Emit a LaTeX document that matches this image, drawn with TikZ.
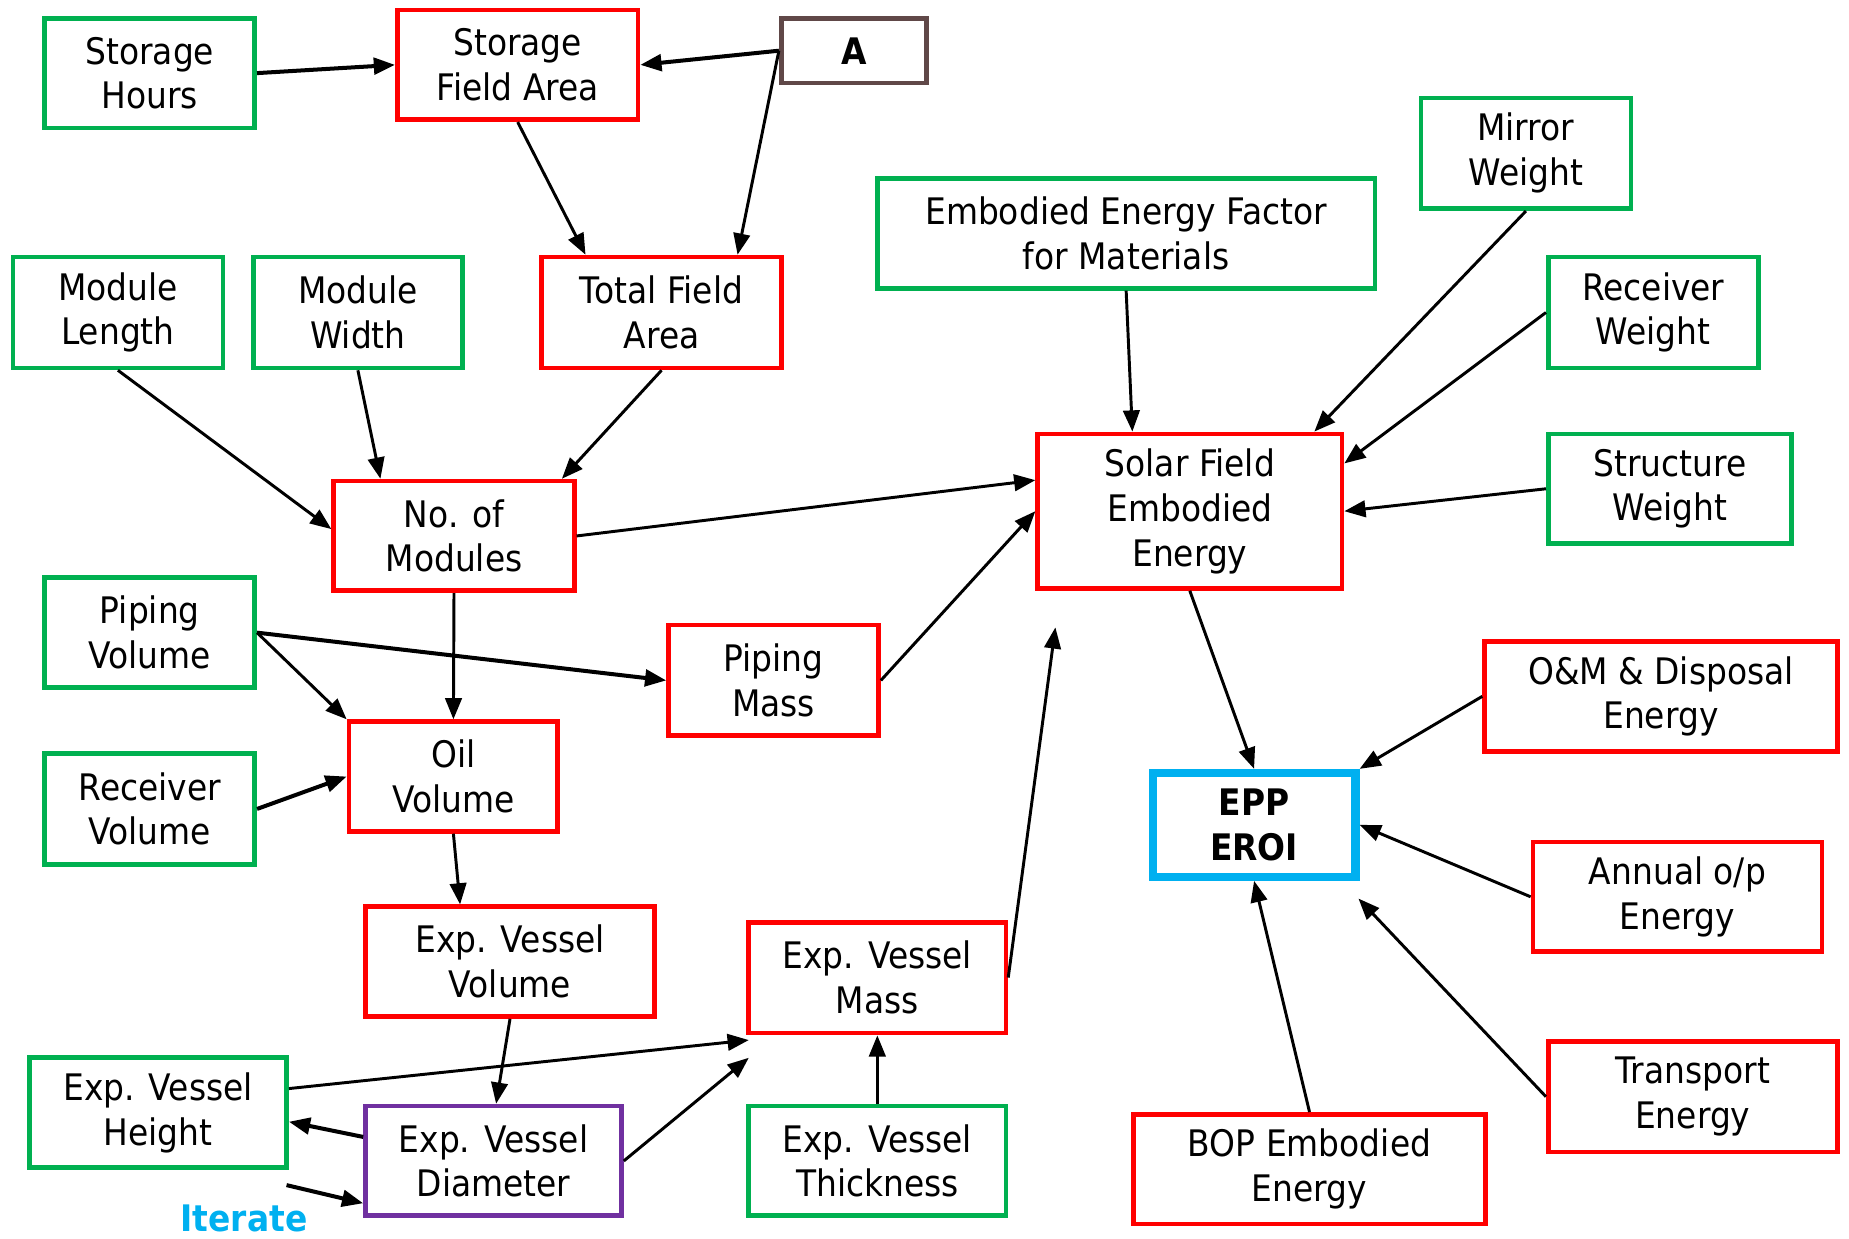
\documentclass[tikz,border=0pt]{standalone}
\usepackage{fontspec}
\setmainfont[FakeStretch=0.9]{DejaVu Sans}
\usetikzlibrary{arrows.meta,calc}
\definecolor{gr}{HTML}{00B050}
\definecolor{rd}{HTML}{FF0000}
\definecolor{bl}{HTML}{00B0F0}
\definecolor{pu}{HTML}{7030A0}
\definecolor{br}{HTML}{604848}
\begin{document}
\begin{tikzpicture}[x=0.5pt,y=-0.5pt,
  bx/.style={draw, line width=2pt, fill=white, inner sep=0pt, align=center,
    font=\fontsize{15.5pt}{19pt}\selectfont},
  gbox/.style={bx, draw=gr},
  rbox/.style={bx, draw=rd},
  con/.style={line width=1.25pt, -{Triangle[length=9pt,width=7pt]}},
  conth/.style={line width=1.7pt, -{Triangle[length=9pt,width=7pt]}}
]
\useasboundingbox (0,0) rectangle (1568,1050);
% nodes
\node[gbox, minimum width=89pt, minimum height=46.5pt] (sh) at (127,62) {Storage\\Hours};
\node[rbox, minimum width=102pt, minimum height=46.5pt] (sfa) at (439,55) {Storage\\Field Area};
\node[bx, draw=br, minimum width=61.5pt, minimum height=27.5pt, font=\fontsize{15.5pt}{19pt}\selectfont\bfseries] (A) at (724,43) {A};
\node[gbox, minimum width=89pt, minimum height=47pt] (ml) at (100,265) {Module\\Length};
\node[gbox, minimum width=88.5pt, minimum height=47pt] (mw) at (303.5,265) {Module\\Width};
\node[rbox, minimum width=102pt, minimum height=47pt] (tfa) at (561,265) {Total Field\\Area};
\node[gbox, minimum width=211pt, minimum height=46.5pt] (eef) at (955,198) {Embodied Energy Factor\\for Materials};
\node[gbox, minimum width=89pt, minimum height=47pt] (mirw) at (1294,130) {Mirror\\Weight};
\node[gbox, minimum width=89pt, minimum height=47pt] (recw) at (1402,265) {Receiver\\Weight};
\node[gbox, minimum width=103pt, minimum height=46.5pt] (strw) at (1416,414.5) {Structure\\Weight};
\node[rbox, minimum width=129pt, minimum height=65.5pt] (sfee) at (1009,433.5) {Solar Field\\Embodied\\Energy};
\node[rbox, minimum width=102pt, minimum height=46.5pt] (nom) at (385,454.5) {No. of\\Modules};
\node[gbox, minimum width=89pt, minimum height=46.5pt] (pv) at (127,536.5) {Piping\\Volume};
\node[rbox, minimum width=89pt, minimum height=47pt] (pm) at (656,577) {Piping\\Mass};
\node[rbox, minimum width=88.5pt, minimum height=46.5pt] (ov) at (384.5,658.5) {Oil\\Volume};
\node[gbox, minimum width=89pt, minimum height=47pt] (rv) at (127,686) {Receiver\\Volume};
\node[rbox, minimum width=149.5pt, minimum height=46.5pt] (om) at (1408.5,590.5) {O\&M \& Disposal\\Energy};
\node[bx, draw=bl, line width=3.5pt, minimum width=86pt, minimum height=44pt, font=\fontsize{15.5pt}{19pt}\selectfont\bfseries] (epp) at (1063.5,699.5) {EPP\\EROI};
\node[rbox, minimum width=122.5pt, minimum height=46.5pt] (aop) at (1422.5,760.5) {Annual o/p\\Energy};
\node[rbox, minimum width=122.5pt, minimum height=46.5pt] (evv) at (432.5,815.5) {Exp. Vessel\\Volume};
\node[rbox, minimum width=109pt, minimum height=47pt] (evm) at (744,829) {Exp. Vessel\\Mass};
\node[gbox, minimum width=109pt, minimum height=46.5pt] (evh) at (134,943.5) {Exp. Vessel\\Height};
\node[bx, draw=pu, minimum width=108.5pt, minimum height=46.5pt] (evd) at (418.5,984.5) {Exp. Vessel\\Diameter};
\node[gbox, minimum width=109pt, minimum height=46.5pt] (evt) at (744,984.5) {Exp. Vessel\\Thickness};
\node[rbox, minimum width=149.5pt, minimum height=46.5pt] (bop) at (1110.5,991.5) {BOP Embodied\\Energy};
\node[rbox, minimum width=122.5pt, minimum height=47pt] (tr) at (1435.5,930) {Transport\\Energy};
\node[text=bl, font=\fontsize{15.5pt}{19pt}\selectfont\bfseries, inner sep=0pt] (it) at (207,1033) {Iterate};
% free ends
\coordinate (h1) at (635,882);
\coordinate (h2) at (635,897);
\coordinate (sfin) at (895,532);
\coordinate (eppin) at (1152,762);
\coordinate (itS) at (243,1005);
% connectors
\draw[conth] (sh.east) -- (sfa.west);
\draw[conth] (A.west) -- (sfa.east);
\draw[con] (A.west) -- ($(tfa.north west)!0.81!(tfa.north east)$);
\draw[con] (sfa.south) -- ($(tfa.north west)!0.19!(tfa.north east)$);
\draw[con] (ml.south) -- ($(nom.north west)!0.44!(nom.south west)$);
\draw[con] (mw.south) -- ($(nom.north west)!0.2!(nom.north east)$);
\draw[con] (tfa.south) -- ($(nom.north west)!0.94!(nom.north east)$);
\draw[con] (nom.east) -- ($(sfee.north west)!0.305!(sfee.south west)$);
\draw[con] (nom.south) -- (ov.north);
\draw[con] (pv.east) -- (ov.north west);
\draw[conth] (pv.east) -- (pm.west);
\draw[con] (pm.east) -- (sfee.west);
\draw[conth] (rv.east) -- (ov.west);
\draw[con] (ov.south) -- ($(evv.north west)!0.33!(evv.north east)$);
\draw[con] (evv.south) -- ($(evd.north west)!0.51!(evd.north east)$);
\draw[con] ($(evh.north east)!0.29!(evh.south east)$) -- (h1);
\draw[con] (evd.east) -- (h2);
\draw[conth] ($(evd.north west)!0.29!(evd.south west)$) -- ($(evh.north east)!0.58!(evh.south east)$);
\draw[conth] (itS) -- ($(evd.north west)!0.87!(evd.south west)$);
\draw[con] (evt.north) -- (evm.south);
\draw[con] (evm.east) -- (sfin);
\draw[con] (eef.south) -- ($(sfee.north west)!0.314!(sfee.north east)$);
\draw[con] (mirw.south) -- ($(sfee.north west)!0.903!(sfee.north east)$);
\draw[con] (recw.west) -- ($(sfee.north east)!0.2!(sfee.south east)$);
\draw[con] (strw.west) -- (sfee.east);
\draw[con] (sfee.south) -- (epp.north);
\draw[con] (om.west) -- (epp.north east);
\draw[con] (aop.west) -- (epp.east);
\draw[con] (tr.west) -- (eppin);
\draw[con] (bop.north) -- (epp.south);
\end{tikzpicture}
\end{document}
